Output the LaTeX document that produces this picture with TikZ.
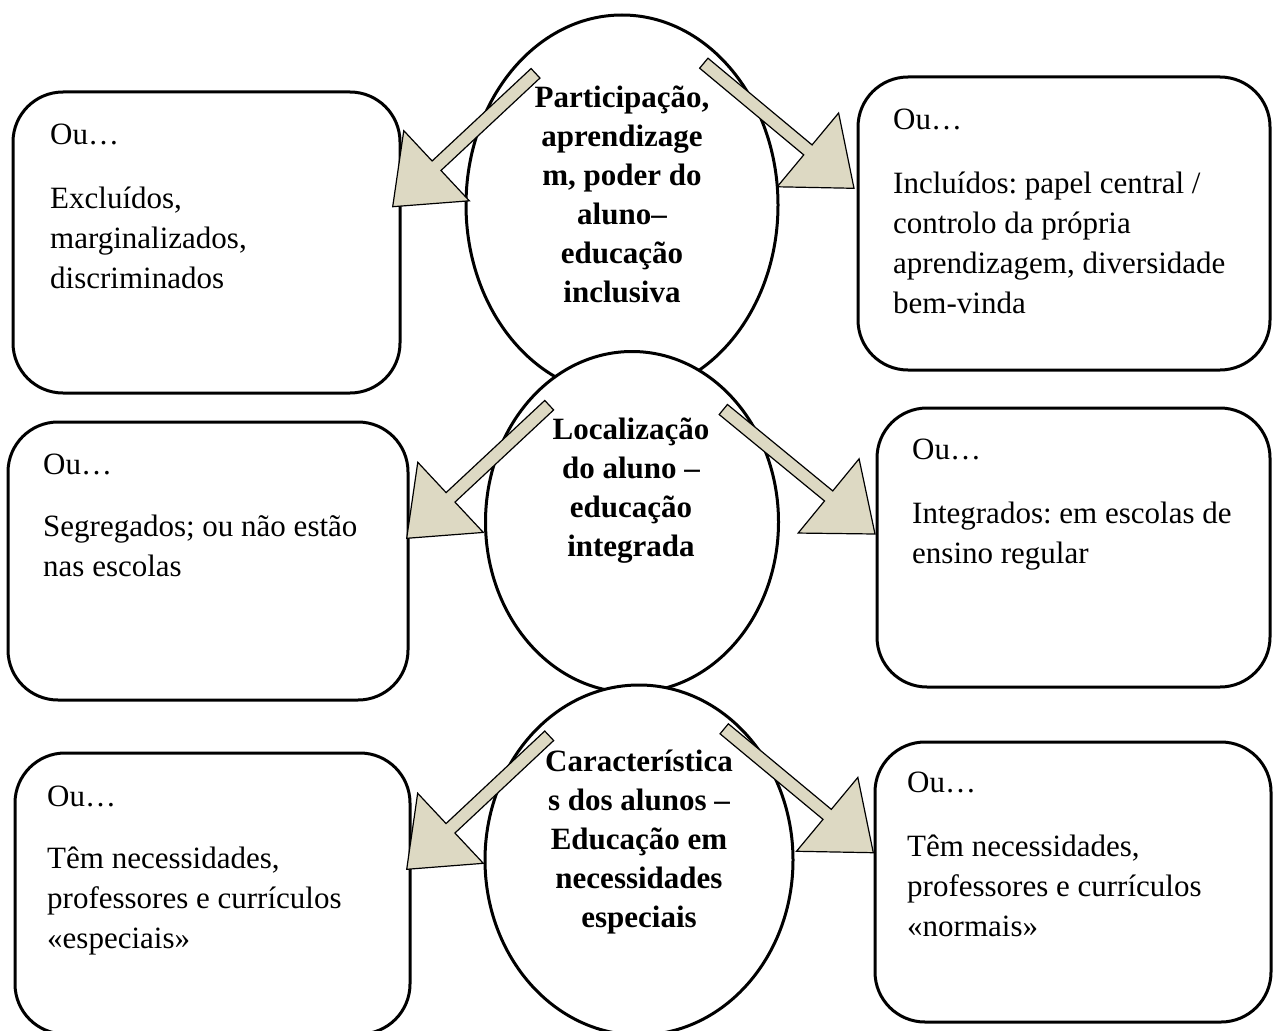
\documentclass[tikz,border=0pt]{standalone}
\usepackage{fontspec}
\setmainfont{Liberation Serif}
\usetikzlibrary{shapes.geometric,calc}
\definecolor{areia}{HTML}{DDD9C3}
\frenchspacing

\begin{document}
\begin{tikzpicture}[x=1pt,y=-1pt,
  caixa/.style={shape=rectangle,draw=black,line width=3pt,rounded corners=50pt,fill=white,inner sep=0pt},
  oval/.style={shape=ellipse,draw=black,line width=3pt,fill=white,inner sep=0pt},
  txt/.style={anchor=north west,inner sep=0pt,align=left,font={\fontsize{31}{40}\selectfont}},
  tema/.style={anchor=north,inner sep=0pt,align=center,font={\fontsize{31}{39}\selectfont\bfseries}},
  seta/.style={draw=black,line width=1.2pt,fill=areia,line join=miter,
    to path={($(\tikztostart)!6.5pt!90:(\tikztotarget)$)
      -- ($(\tikztotarget)!60pt!(\tikztostart)!6.5pt!90:(\tikztotarget)$)
      -- ($(\tikztotarget)!60pt!(\tikztostart)!48pt!90:(\tikztotarget)$)
      -- (\tikztotarget)
      -- ($(\tikztotarget)!60pt!(\tikztostart)!48pt!-90:(\tikztotarget)$)
      -- ($(\tikztotarget)!60pt!(\tikztostart)!6.5pt!-90:(\tikztotarget)$)
      -- ($(\tikztostart)!6.5pt!-90:(\tikztotarget)$) -- cycle}}]
\useasboundingbox (0,0) rectangle (1273,1030);

\node[caixa,minimum width=387pt,minimum height=301pt] (L1) at (206.5,242.5) {};
\node[caixa,minimum width=412pt,minimum height=293pt] (R1) at (1064,223.5) {};
\node[caixa,minimum width=400pt,minimum height=278pt] (L2) at (208,561) {};
\node[caixa,minimum width=393pt,minimum height=279pt] (R2) at (1073.5,547.5) {};
\node[caixa,minimum width=395pt,minimum height=281pt] (L3) at (212.5,893.5) {};
\node[caixa,minimum width=396pt,minimum height=280pt] (R3) at (1073,882) {};

\node[oval,minimum width=312pt,minimum height=380pt] (C1) at (622,205) {};
\node[oval,minimum width=293pt,minimum height=341pt] (C2) at (632,522) {};
\node[oval,minimum width=308pt,minimum height=350pt] (C3) at (639,860) {};

\node[tema] (T1) at (622,86) {Participação,\\ aprendizage\\ m, poder do\\ aluno–\\ educação\\ inclusiva};
\node[tema] (T2) at (631,418) {Localização\\ do aluno –\\ educação\\ integrada};
\node[tema] (T3) at (639,750) {Característica\\ s dos alunos –\\ Educação em\\ necessidades\\ especiais};

\node[txt] (X1) at (50,124) {Ou…\\[24pt] Excluídos,\\ marginalizados,\\ discriminados};
\node[txt] (Y1) at (893,109) {Ou…\\[24pt] Incluídos: papel central /\\ controlo da própria\\ aprendizagem, diversidade\\ bem-vinda};
\node[txt] (X2) at (43,454) {Ou…\\[22pt] Segregados; ou não estão\\ nas escolas};
\node[txt] (Y2) at (912,439) {Ou…\\[24pt] Integrados: em escolas de\\ ensino regular};
\node[txt] (X3) at (47,786) {Ou…\\[22pt] Têm necessidades,\\ professores e currículos\\ «especiais»};
\node[txt] (Y3) at (907,772) {Ou…\\[24pt] Têm necessidades,\\ professores e currículos\\ «normais»};

% setas
\coordinate (a1) at (535.5,73.3);  \coordinate (b1) at (392.7,206.7);
\coordinate (a2) at (703.8,63.2);  \coordinate (b2) at (854,188.3);
\coordinate (a3) at (549.2,405.2); \coordinate (b3) at (406.7,538.3);
\coordinate (a4) at (723.3,409.5); \coordinate (b4) at (875,534);
\coordinate (a5) at (549.2,735.8); \coordinate (b5) at (406.7,869.3);
\coordinate (a6) at (724.2,728.8); \coordinate (b6) at (873.3,852.7);
\path (a1) edge[seta] (b1);
\path (a2) edge[seta] (b2);
\path (a3) edge[seta] (b3);
\path (a4) edge[seta] (b4);
\path (a5) edge[seta] (b5);
\path (a6) edge[seta] (b6);
\end{tikzpicture}
\end{document}
